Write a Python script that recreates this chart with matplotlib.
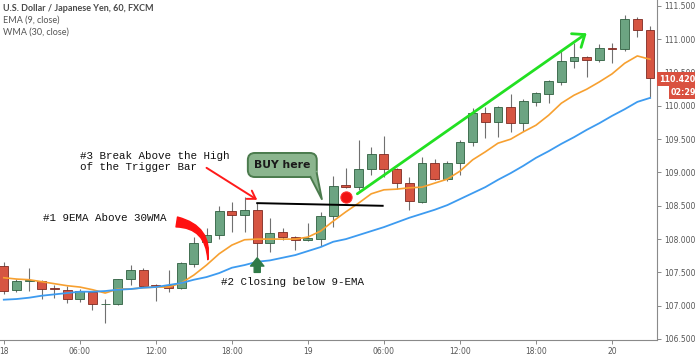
import matplotlib
matplotlib.use("Agg")
import matplotlib.pyplot as plt
import matplotlib.patches as mpatches
from matplotlib.ticker import FixedLocator, FormatStrFormatter
import numpy as np

# hourly candles, USD/JPY 18 00:00 -> 20 03:00
opens = [107.60, 107.24, 107.37, 107.37, 107.27, 107.24, 107.10, 107.21, 107.02, 107.03,
         107.40, 107.54, 107.31, 107.31, 107.27, 107.63, 107.96, 108.06, 108.42, 108.36,
         108.44, 107.94, 108.11, 108.03, 107.99, 108.00, 108.35, 108.81, 108.78, 109.05,
         109.28, 109.05, 108.84, 108.56, 109.14, 108.90, 109.14, 109.46, 109.89, 109.76,
         109.98, 109.74, 110.06, 110.18, 110.36, 110.67, 110.73, 110.69, 110.87, 110.85,
         111.30, 111.14]
highs = [107.66, 107.40, 107.57, 107.39, 107.31, 107.30, 107.25, 107.21, 107.10, 107.40,
         107.61, 107.57, 107.32, 107.54, 107.65, 108.03, 108.17, 108.50, 108.56, 108.63,
         108.54, 108.32, 108.17, 108.04, 108.24, 108.41, 108.95, 109.07, 109.49, 109.38,
         109.55, 109.07, 108.93, 109.23, 109.20, 109.17, 109.49, 109.97, 109.98, 110.00,
         110.18, 110.10, 110.21, 110.39, 110.82, 110.94, 110.75, 110.93, 110.94, 111.36,
         111.33, 111.20]
lows = [107.18, 107.21, 107.22, 107.10, 107.12, 107.04, 107.06, 106.94, 106.74, 107.01,
        107.31, 107.28, 107.07, 107.21, 107.25, 107.58, 107.94, 108.00, 108.11, 108.11,
        107.73, 107.81, 107.99, 107.84, 107.97, 107.90, 108.18, 108.77, 108.74, 108.96,
        108.93, 108.75, 108.44, 108.54, 108.89, 108.87, 108.96, 109.40, 109.52, 109.53,
        109.61, 109.62, 110.00, 110.04, 110.31, 110.57, 110.43, 110.66, 110.65, 110.82,
        111.03, 110.12]
closes = [107.22, 107.37, 107.39, 107.25, 107.25, 107.10, 107.22, 107.03, 107.03, 107.40,
          107.54, 107.30, 107.30, 107.27, 107.64, 107.94, 108.06, 108.42, 108.36, 108.44,
          107.94, 108.09, 108.03, 107.99, 108.02, 108.35, 108.80, 108.78, 109.05, 109.28,
          109.05, 108.84, 108.57, 109.14, 108.90, 109.14, 109.46, 109.89, 109.76, 109.98,
          109.74, 110.07, 110.19, 110.37, 110.67, 110.73, 110.69, 110.87, 110.85, 111.30,
          111.14, 110.42]

ema9 = [107.42, 107.40, 107.39, 107.36, 107.33, 107.30, 107.28, 107.24, 107.19, 107.25,
        107.25, 107.27, 107.28, 107.28, 107.34, 107.46, 107.61, 107.78, 107.91, 107.99,
        108.00, 108.00, 108.00, 108.00, 108.03, 108.12, 108.27, 108.41, 108.54, 108.68,
        108.74, 108.75, 108.77, 108.78, 108.84, 108.90, 109.02, 109.19, 109.31, 109.44,
        109.50, 109.61, 109.71, 109.86, 110.04, 110.16, 110.25, 110.36, 110.48, 110.64,
        110.75, 110.70]
wma30 = [107.09, 107.10, 107.12, 107.15, 107.17, 107.19, 107.21, 107.21, 107.22, 107.24,
         107.25, 107.27, 107.28, 107.31, 107.34, 107.39, 107.43, 107.49, 107.57, 107.61,
         107.66, 107.68, 107.72, 107.76, 107.82, 107.88, 107.96, 108.00, 108.06, 108.12,
         108.18, 108.25, 108.32, 108.38, 108.44, 108.51, 108.60, 108.69, 108.78, 108.89,
         108.99, 109.10, 109.22, 109.32, 109.43, 109.53, 109.64, 109.74, 109.85, 109.95,
         110.06, 110.12]

tick_hours = [0, 6, 12, 18, 24, 30, 36, 42, 48]
tick_labels = ["18", "06:00", "12:00", "18:00", "19", "06:00", "12:00", "18:00", "20"]

UP_FILL, UP_EDGE = "#6ca482", "#2f5f40"
DN_FILL, DN_EDGE = "#d65542", "#7e2a22"
GRAY = "#555555"
MONO = "Liberation Mono"

fig = plt.figure(figsize=(6.95, 3.58), dpi=100)
ax = fig.add_axes([0.0, 0.0503, 0.9453, 0.9497])

x = np.arange(len(opens))
o, h, l, c = map(np.array, (opens, highs, lows, closes))
up = c >= o

# wicks + bodies
ax.vlines(x, l, h, color="#707070", linewidth=0.8, zorder=2)
body_bot = np.minimum(o, c)
body_h = np.maximum(np.abs(c - o), 0.012)
ax.bar(x[up], body_h[up], bottom=body_bot[up], width=0.7,
       color=UP_FILL, edgecolor=UP_EDGE, linewidth=0.6, zorder=3)
ax.bar(x[~up], body_h[~up], bottom=body_bot[~up], width=0.7,
       color=DN_FILL, edgecolor=DN_EDGE, linewidth=0.6, zorder=3)

ax.plot(x, ema9, color="#f7a030", linewidth=1.2, zorder=4)
ax.plot(x, wma30, color="#3d9bf0", linewidth=1.3, zorder=4)

ax.set_xlim(-0.3, 51.55)
ax.set_ylim(106.485, 111.59)

# axes cosmetics
for s in ["top", "left"]:
    ax.spines[s].set_visible(False)
for s in ["right", "bottom"]:
    ax.spines[s].set_color("#8a8a8a")
    ax.spines[s].set_linewidth(0.8)
ax.yaxis.tick_right()
ax.yaxis.set_major_locator(FixedLocator(np.arange(106.5, 111.51, 0.5)))
ax.yaxis.set_major_formatter(FormatStrFormatter("%.3f"))
ax.set_xticks(tick_hours)
ax.set_xticklabels(tick_labels)
ax.tick_params(axis="both", colors="#8a8a8a", labelcolor=GRAY, labelsize=5.5,
               length=3, width=0.7, pad=2)

# legend-ish header
ax.text(0.004, 0.975, "U.S. Dollar / Japanese Yen, 60, FXCM", transform=ax.transAxes,
        fontsize=6.5, fontweight="bold", color="#4a4a4a", family="Lato", va="center")
ax.text(0.004, 0.94, "EMA (9, close)", transform=ax.transAxes,
        fontsize=6.5, color=GRAY, family="Lato", va="center")
ax.text(0.004, 0.907, "WMA (30, close)", transform=ax.transAxes,
        fontsize=6.5, color=GRAY, family="Lato", va="center")

# annotations
trig = 20
ax.text(6.0, 109.165, "#3 Break Above the High\nof the Trigger Bar", family=MONO,
        fontsize=7.8, color="#111111", va="center", ha="left")
ax.text(3.1, 108.317, "#1 9EMA Above 30WMA", family=MONO, fontsize=7.8,
        color="#111111", va="center", ha="left")
ax.text(17.15, 107.356, "#2 Closing below 9-EMA", family=MONO, fontsize=7.8,
        color="#111111", va="center", ha="left")

ax.annotate("", xy=(trig, highs[trig] + 0.05), xytext=(16.0, 109.07),
            arrowprops=dict(arrowstyle="->,head_length=0.55,head_width=0.35",
                            color="#ff1a1a", lw=1.4, shrinkA=0, shrinkB=0))

# high of trigger bar
ax.plot([trig, 29.9], [highs[trig], highs[trig] - 0.04], color="black", lw=1.4, zorder=5)

# thick curved red arrow
curve = mpatches.FancyArrowPatch((13.65, 108.257), (16.1, 107.69),
                                 connectionstyle="arc3,rad=-0.45",
                                 arrowstyle="wedge,tail_width=0.6,shrink_factor=0.5",
                                 mutation_scale=12, color="#ff1010",
                                 shrinkA=0, shrinkB=0, zorder=6)
ax.add_patch(curve)

# green up marker below trigger bar
up_arrow = mpatches.FancyArrowPatch((trig, 107.50), (trig, 107.72),
                                    arrowstyle="simple,head_width=1.2,head_length=0.75,tail_width=0.55",
                                    mutation_scale=8, color="#2f7a47",
                                    shrinkA=0, shrinkB=0, zorder=6)
ax.add_patch(up_arrow)

# BUY here bubble
bub_fc, bub_ec = "#8bb58e", "#4b7b4d"
bubble = mpatches.FancyBboxPatch((19.26, 108.932), 5.44, 0.361,
                                 boxstyle="round,pad=0,rounding_size=0.55",
                                 mutation_aspect=12.67 / 66.6,
                                 fc=bub_fc, ec=bub_ec, lw=1.4, zorder=7)
ax.add_patch(bubble)
tail = mpatches.Polygon([(24.2, 108.95), (24.69, 109.03), (25.1, 108.60)],
                        closed=True, fc=bub_fc, ec="none", zorder=8)
ax.add_patch(tail)
ax.plot([24.2, 25.1, 24.70], [108.932, 108.60, 108.99], color=bub_ec, lw=1.4, zorder=8)
ax.text(21.98, 109.115, "BUY here", fontsize=7.8, fontweight="bold", color="#1a1a1a",
        ha="center", va="center", zorder=9)

# entry dot
ax.scatter([27], [108.63], s=65, color="#f01414", edgecolors="#ff3030",
           linewidths=0.8, zorder=7)

# trend arrow
ax.annotate("", xy=(46.0, 111.09), xytext=(27.9, 108.68),
            arrowprops=dict(arrowstyle="->,head_length=0.75,head_width=0.6",
                            color="#22e022", lw=2.0, shrinkA=0, shrinkB=0))

# last price tag
ytr = ax.get_yaxis_transform()
ax.text(1.003, closes[-1] - 0.02, f"{closes[-1]:.3f}", transform=ytr, fontsize=5.8,
        fontweight="bold", color="white", va="center", ha="left",
        bbox=dict(boxstyle="square,pad=0.3", fc="#d9503f", ec="none"), zorder=10)
ax.text(1.021, closes[-1] - 0.225, "02:29", transform=ytr, fontsize=5.8,
        fontweight="bold", color="white", va="center", ha="left",
        bbox=dict(boxstyle="square,pad=0.25", fc="#d9503f", ec="none"), zorder=10)

fig.savefig("out.png", dpi=100)
